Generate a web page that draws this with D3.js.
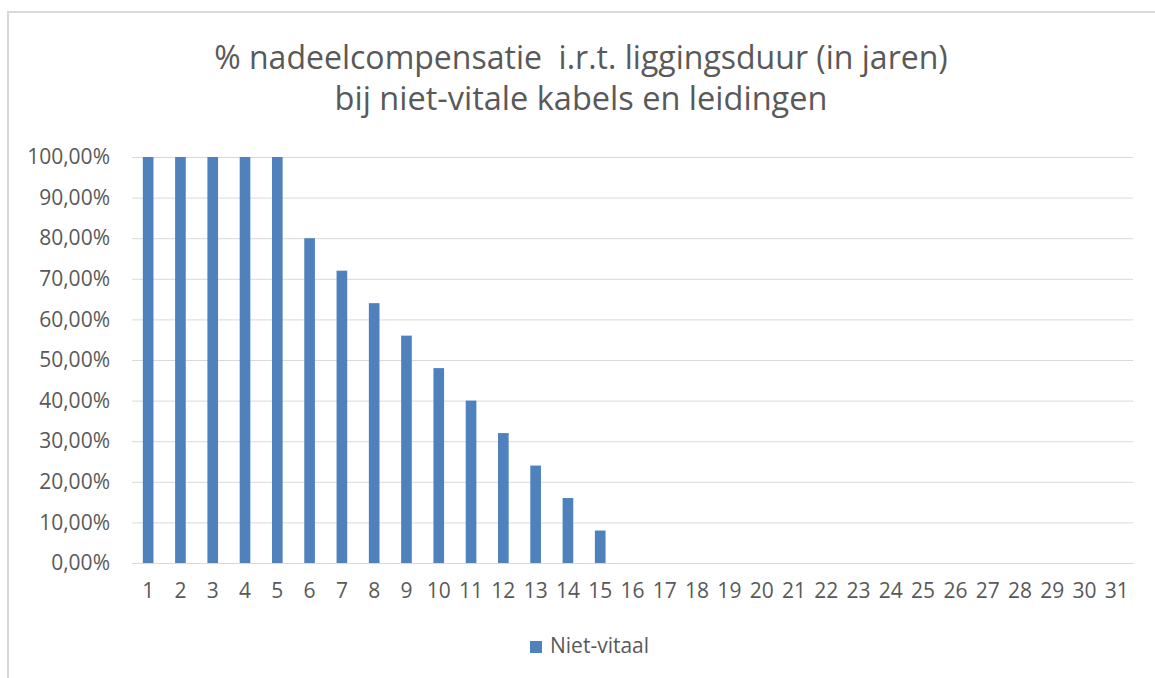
<!DOCTYPE html>
<html>
<head>
<meta charset="utf-8">
<script src="https://cdn.jsdelivr.net/npm/d3@7"></script>
<style>
	body { margin: 0; background: #fff; }
	text { font-family: "Open Sans", sans-serif; fill: #595959; }
</style>
</head>
<body>
<div id="chart"></div>
<script>

var years = d3.range(1, 32).map(String)
var nietVitaal = [100, 100, 100, 100, 100, 80, 72, 64, 56, 48, 40, 32, 24, 16, 8,
	0, 0, 0, 0, 0, 0, 0, 0, 0, 0, 0, 0, 0, 0, 0, 0]
var yTicks = [0, 10, 20, 30, 40, 50, 60, 70, 80, 90, 100]
var titleLines = ['% nadeelcompensatie  i.r.t. liggingsduur (in jaren)', 'bij niet-vitale kabels en leidingen']
var seriesName = 'Niet-vitaal'

var W = 1155, H = 678
var margin = { top: 157, bottom: 115, left: 132, right: 22 }
var width = W - margin.left - margin.right
var height = H - margin.top - margin.bottom

var svg = d3.select('#chart').append('svg')
	.attr('width', W)
	.attr('height', H)

// chart area border (only top and left show in the crop)
svg.append('rect')
	.attr('x', 8).attr('y', 12)
	.attr('width', W + 20).attr('height', H + 20)
	.attr('fill', 'none')
	.attr('stroke', '#d9d9d9')
	.attr('stroke-width', 2)

// title, fitted to the widths measured in the reference
var titleWidths = [734, 493]
var titleY = [69, 110]
titleLines.forEach(function(line, i) {
	var t = svg.append('text')
		.attr('x', 581)
		.attr('y', titleY[i])
		.attr('text-anchor', 'middle')
		.style('font-size', '28px')
		.style('white-space', 'pre')
		.text(line)
	var w = t.node().getComputedTextLength()
	t.style('font-size', (28 * titleWidths[i] / w) + 'px')
})

var xScale = d3.scaleBand()
	.domain(years)
	.range([0, width])
	.paddingInner(0.67)
	.paddingOuter(0.335)

var yScale = d3.scaleLinear()
	.domain([0, 100])
	.range([height, 0])

var fmt = function(d) { return d3.format('.2f')(d).replace('.', ',') + '%' }

var yGrid = d3.axisLeft(yScale)
	.tickValues(yTicks)
	.tickSize(-width)
	.tickFormat('')

var yAxis = d3.axisLeft(yScale)
	.tickValues(yTicks)
	.tickSize(0)
	.tickPadding(22)
	.tickFormat(fmt)

var xAxis = d3.axisBottom(xScale)
	.tickSize(0)
	.tickPadding(20)

var g = svg.append('g')
	.attr('transform', 'translate(' + margin.left + ',' + margin.top + ')')

g.append('g')
	.attr('class', 'grid')
	.call(yGrid)
	.call(function(s) {
		s.select('.domain').remove()
		s.selectAll('line').attr('stroke', '#d9d9d9').attr('stroke-width', 1)
	})

g.append('g')
	.attr('class', 'y axis')
	.call(yAxis)
	.call(function(s) {
		s.select('.domain').remove()
		s.selectAll('text').style('font-size', '21px').style('font-family', '"Open Sans", sans-serif').attr('fill', '#595959')
	})

g.append('g')
	.attr('class', 'x axis')
	.attr('transform', 'translate(0,' + height + ')')
	.call(xAxis)
	.call(function(s) {
		s.select('.domain').attr('stroke', '#d9d9d9')
		s.selectAll('text').style('font-size', '21px').style('font-family', '"Open Sans", sans-serif').attr('fill', '#595959')
	})

g.selectAll('rect.bar').data(nietVitaal)
	.enter().append('rect')
	.attr('class', 'bar')
	.attr('x', function(d, i) { return xScale(years[i]) })
	.attr('y', function(d) { return yScale(d) })
	.attr('width', xScale.bandwidth())
	.attr('height', function(d) { return height - yScale(d) })
	.attr('fill', '#4f81bd')

// legend
var legend = svg.append('g')
	.attr('transform', 'translate(530,641)')
legend.append('rect')
	.attr('width', 12).attr('height', 12)
	.attr('fill', '#4f81bd')
legend.append('text')
	.attr('x', 20)
	.attr('y', 12)
	.style('font-size', '21px')
	.text(seriesName)

</script>
</body>
</html>
